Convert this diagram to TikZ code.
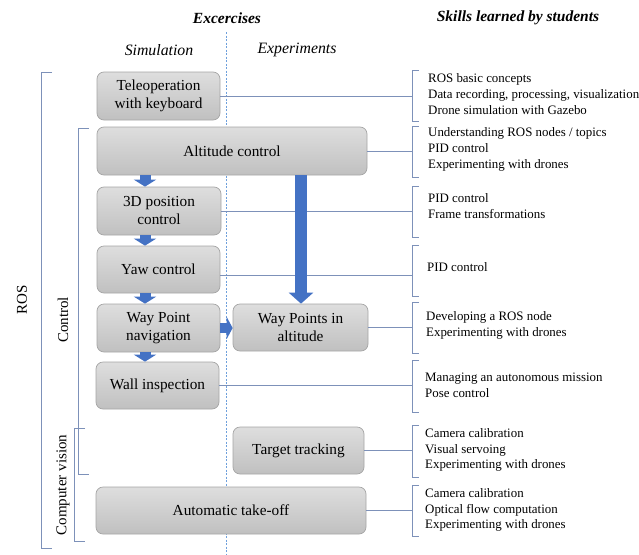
\documentclass[tikz,border=0pt]{standalone}
\usepackage{fontspec}
\setmainfont{Liberation Serif}
\usetikzlibrary{arrows.meta,calc}

\definecolor{boxline}{RGB}{165,165,165}
\definecolor{boxtop}{RGB}{222,222,222}
\definecolor{boxbot}{RGB}{192,192,192}
\definecolor{flow}{RGB}{68,114,196}
\definecolor{tiecol}{RGB}{125,145,185}
\definecolor{divider}{RGB}{110,160,220}

\tikzset{
  task/.style={draw=boxline, line width=0.7pt, rounded corners=7pt,
    top color=boxtop, bottom color=boxbot, inner sep=0pt, align=center,
    font=\fontsize{15.3}{18}\selectfont},
  skills/.style={anchor=west, align=left, inner sep=0pt,
    font=\fontsize{12.9}{15.9}\selectfont},
  heading/.style={font=\fontsize{15.5}{17}\selectfont\bfseries\itshape},
  column/.style={font=\fontsize{15.8}{17}\selectfont\itshape},
  group/.style={rotate=90, font=\fontsize{15}{17}\selectfont},
  bracket/.style={draw=tiecol, line width=0.8pt},
  tie/.style={draw=tiecol, line width=0.8pt},
  stepflow/.style={draw=flow, line width=11pt,
    -{Triangle[width=22pt,length=7pt]}},
  longflow/.style={draw=flow, line width=12pt,
    -{Triangle[width=24pt,length=11pt]}},
  sideflow/.style={draw=flow, line width=10pt,
    -{Triangle[width=22pt,length=6pt]}},
}

\begin{document}
\begin{tikzpicture}[x=1pt, y=-1pt]
\useasboundingbox (0,0) rectangle (639,554);

% column headings
\node[heading] (hex) at (227,18) {Excercises};
\node[heading] (hsk) at (518,18) {Skills learned by students};
\node[column] (hsim) at (159,50) {Simulation};
\node[column] (hexp) at (297,50) {Experiments};

% divider between simulation and experiments
\draw[divider, line width=0.6pt, dash pattern=on 2pt off 1.5pt] (226,32) -- (226,554);

% exercises
\node[task, minimum width=123pt, minimum height=48pt] (tele) at (158.5,96) {Teleoperation\\with keyboard};
\node[task, minimum width=270pt, minimum height=48pt] (alt) at (232,151) {Altitude control};
\node[task, minimum width=124pt, minimum height=48pt] (pos) at (159,211) {3D position\\control};
\node[task, minimum width=123pt, minimum height=47pt] (yaw) at (158.5,269.5) {Yaw control};
\node[task, minimum width=123pt, minimum height=48pt] (wpn) at (158.5,328) {Way Point\\navigation};
\node[task, minimum width=135pt, minimum height=47pt] (wpa) at (300.5,327.5) {Way Points in\\altitude};
\node[task, minimum width=123pt, minimum height=47pt] (wall) at (157.5,385.5) {Wall inspection};
\node[task, minimum width=131pt, minimum height=47pt] (tgt) at (298.5,450.5) {Target tracking};
\node[task, minimum width=270pt, minimum height=47pt] (auto) at (231,510.5) {Automatic take-off};

% skill brackets (right side) and their anchor points
\coordinate (s1) at (412,96);
\coordinate (s2) at (412,151);
\coordinate (s3) at (412,211.5);
\coordinate (s4) at (412,275);
\coordinate (s5) at (412,327.5);
\coordinate (s6) at (412,385.5);
\coordinate (s7) at (412,450.5);
\coordinate (s8) at (412,510.5);

\draw[bracket] (419,70) -- (412,70) -- (412,121) -- (419,121);
\draw[bracket] (419,126) -- (412,126) -- (412,177) -- (419,177);
\draw[bracket] (419,186) -- (412,186) -- (412,237) -- (419,237);
\draw[bracket] (419,245) -- (412,245) -- (412,296) -- (419,296);
\draw[bracket] (419,302) -- (412,302) -- (412,353) -- (419,353);
\draw[bracket] (419,360) -- (412,360) -- (412,412) -- (419,412);
\draw[bracket] (419,425) -- (412,425) -- (412,477) -- (419,477);
\draw[bracket] (419,485) -- (412,485) -- (412,536) -- (419,536);

% links from exercises to skills
\draw[tie] (tele.east |- s1) -- (s1);
\draw[tie] (alt.east |- s2) -- (s2);
\draw[tie] (pos.east |- s3) -- (s3);
\draw[tie] (yaw.east |- s4) -- (s4);
\draw[tie] (wpa.east |- s5) -- (s5);
\draw[tie] (wall.east |- s6) -- (s6);
\draw[tie] (tgt.east |- s7) -- (s7);
\draw[tie] (auto.east |- s8) -- (s8);

% skills
\node[skills] (k1) at (428,94) {ROS basic concepts\\Data recording, processing, visualization\\Drone simulation with Gazebo};
\node[skills] (k2) at (428,149.5) {Understanding ROS nodes / topics\\PID control\\Experimenting with drones};
\node[skills] (k3) at (428,206) {PID control\\Frame transformations};
\node[skills] (k4) at (427,267) {PID control};
\node[skills] (k5) at (426,325.5) {Developing a ROS node\\Experimenting with drones};
\node[skills] (k6) at (425,385.5) {Managing an autonomous mission\\Pose control};
\node[skills] (k7) at (425,450) {Camera calibration\\Visual servoing\\Experimenting with drones};
\node[skills] (k8) at (425,510) {Camera calibration\\Optical flow computation\\Experimenting with drones};

% progression arrows
\coordinate (ax) at (145,0);
\coordinate (bx) at (301,0);
\draw[stepflow] (alt.south -| ax) -- (pos.north -| ax);
\draw[stepflow] (pos.south -| ax) -- (yaw.north -| ax);
\draw[stepflow] (yaw.south -| ax) -- (wpn.north -| ax);
\draw[stepflow] (wpn.south -| ax) -- (wall.north -| ax);
\draw[longflow] (alt.south -| bx) -- (wpa.north -| bx);
\draw[sideflow] (wpn.east) -- (wpa.west |- wpn.east);

% topic brackets (left side)
\draw[bracket] (52,72) -- (41,72) -- (41,548) -- (52,548);
\draw[bracket] (89,128) -- (78,128) -- (78,474) -- (89,474);
\draw[bracket] (85,428) -- (74,428) -- (74,541) -- (85,541);
\node[group] (gros) at (22,300) {ROS};
\node[group] (gctl) at (63,320) {Control};
\node[group] (gcv) at (63,485) {Computer vision};
\end{tikzpicture}
\end{document}
